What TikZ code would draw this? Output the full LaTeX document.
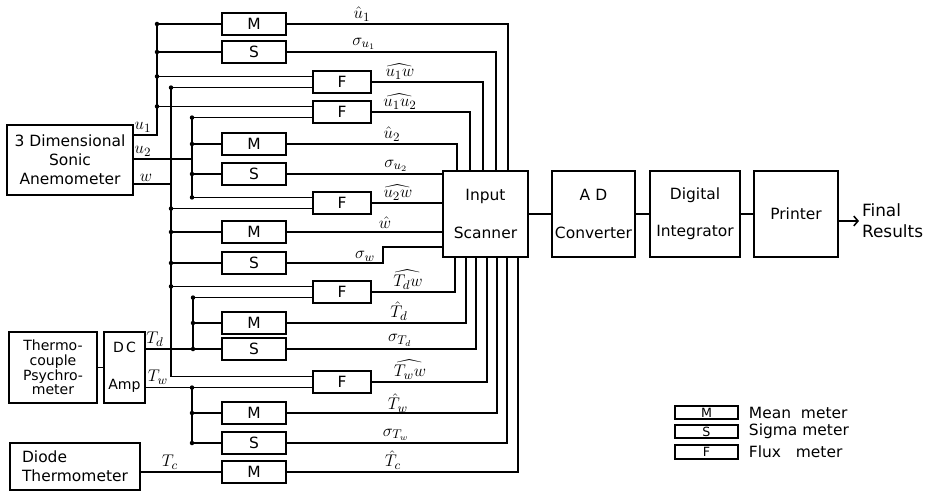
\documentclass[tikz,border=0pt]{standalone}
\usepackage{amsmath}
\usepackage{fontspec}
\setmainfont{DejaVu Sans}
\usetikzlibrary{arrows.meta}

\tikzset{
  wire/.style={line width=1.1pt},
  box/.style={draw, line width=1.5pt, inner sep=0pt},
  meter/.style={box, minimum width=1.6cm, minimum height=0.55cm},
  flux/.style={box, minimum width=1.45cm, minimum height=0.55cm},
  unit/.style={box, minimum height=2.15cm, align=center},
  key/.style={box, line width=1.3pt, minimum width=1.575cm, minimum height=0.33cm, font=\fontsize{9}{10}\selectfont},
  lbl/.style={anchor=south, inner sep=1pt, font=\fontsize{12.5}{14}\selectfont},
}

\begin{document}
\begin{tikzpicture}[x=0.025cm, y=-0.025cm, font=\fontsize{11}{13.5}\selectfont]
  \useasboundingbox (0,0) rectangle (934,492);

  % sources
  \node[box, minimum width=3.15cm, minimum height=1.75cm, align=center] (sonic) at (70,160) {3 Dimensional\\Sonic\\Anemometer};
  \node[box, minimum width=2.2cm, minimum height=1.775cm, align=center, font=\fontsize{10}{10.5}\selectfont] (thermo) at (53,367.5) {Thermo-\\couple\\Psychro-\\meter};
  \node[box, minimum width=1.025cm, minimum height=1.775cm, align=center, font=\fontsize{10}{12}\selectfont] (amp) at (124.5,367.5) {D\,C\\[14pt]Amp};
  \node[box, minimum width=3.25cm, minimum height=1.175cm, align=left] (diode) at (75,466.5) {Diode\\Thermometer};

  % meters
  \node[meter] (m1) at (254,24) {M};
  \node[meter] (s1) at (254,52) {S};
  \node[flux]  (f1) at (342,82) {F};
  \node[flux]  (f2) at (342,112) {F};
  \node[meter] (m2) at (254,144) {M};
  \node[meter] (s2) at (254,174) {S};
  \node[flux]  (f3) at (342,203) {F};
  \node[meter] (m3) at (254,232) {M};
  \node[meter] (s3) at (254,263) {S};
  \node[flux]  (f4) at (342,292) {F};
  \node[meter] (m4) at (254,323) {M};
  \node[meter] (s4) at (254,349) {S};
  \node[flux]  (f5) at (342,382) {F};
  \node[meter] (m5) at (254,413) {M};
  \node[meter] (s5) at (254,443) {S};
  \node[meter] (m6) at (254,472) {M};

  % processing chain
  \node[unit, minimum width=2.125cm] (scanner) at (485.5,214) {Input\\[13pt]Scanner};
  \node[unit, minimum width=2.075cm] (adc) at (593.5,214) {A\,\,D\\[13pt]Converter};
  \node[unit, minimum width=2.25cm] (integ) at (695,214) {Digital\\[13pt]Integrator};
  \node[unit, minimum width=2.1cm] (printer) at (796,214) {Printer};
  \node[align=left, anchor=west, inner sep=2pt, font=\fontsize{12}{15}\selectfont] (result) at (859,221) {Final\\Results};

  % ports and bus points
  \foreach \f in {f1,f2,f3,f4,f5} {
    \coordinate (\f-a) at ([yshift=0.14cm]\f.west);
    \coordinate (\f-b) at ([yshift=-0.14cm]\f.west);
  }
  \coordinate (u1) at (133,135);
  \coordinate (u2) at (133,159);
  \coordinate (w) at (133,184);
  \coordinate (ju1) at (157,24);
  \coordinate (jw) at (171,184);
  \coordinate (ju2) at (192,159);
  \coordinate (jtd) at (193,349);
  \coordinate (td) at (amp.east |- s4);
  \coordinate (tw) at (amp.east |- f5-b);
  \coordinate (jtw) at (192,0 |- f5-b);
  \coordinate (jsw) at (383,247);

  % u1 bus
  \draw[wire] (u1) -| (ju1) -- (m1);
  \draw[wire] (ju1 |- s1) -- (s1);
  \draw[wire] (ju1 |- f1-a) -- (f1-a);
  \draw[wire] (ju1 |- f2-a) -- (f2-a);
  % w bus
  \draw[wire] (w) -- (jw);
  \draw[wire] (f1-b) -| (jw) |- (f5-a);
  \draw[wire] (jw |- f3-b) -- (f3-b);
  \draw[wire] (jw |- m3) -- (m3);
  \draw[wire] (jw |- s3) -- (s3);
  \draw[wire] (jw |- f4-a) -- (f4-a);
  % u2 bus
  \draw[wire] (u2) -- (ju2);
  \draw[wire] (f2-b) -| (ju2) |- (f3-a);
  \draw[wire] (ju2 |- m2) -- (m2);
  \draw[wire] (ju2 |- s2) -- (s2);
  % temperatures
  \draw[wire] (thermo) -- (amp);
  \draw[wire] (td) -- (s4);
  \draw[wire] (f4-b) -| (jtd);
  \draw[wire] (jtd |- m4) -- (m4);
  \draw[wire] (tw) -- (f5-b);
  \draw[wire] (jtw) |- (s5);
  \draw[wire] (jtw |- m5) -- (m5);
  \draw[wire] (diode.east |- m6) -- (m6);

  \foreach \p in {ju1, ju1|-s1, ju1|-f1-a, ju1|-f2-a, jw|-f1-b, jw|-f3-b, jw|-m3, jw|-s3, jw|-f4-a,
                  ju2|-f2-b, ju2|-m2, ju2|-s2, ju2|-f3-a, jtd|-f4-b, jtd|-m4, jtd, jtw, jtw|-m5, jtw|-s5}
    \fill (\p) circle (1.6pt);

  % into the scanner
  \foreach \src/\px in {m1/508, s1/496, f1/483, f2/470, m2/457}
    \draw[wire] (\src) -| (\px,0 |- scanner.north);
  \foreach \src in {s2, f3, m3}
    \draw[wire] (\src) -- (\src -| scanner.west);
  \draw[wire] (s3) -| (jsw) -- (jsw -| scanner.west);
  \foreach \src/\px in {f4/455, m4/466, s4/476, f5/487, m5/497, s5/507, m6/518}
    \draw[wire] (\src) -| (\px,0 |- scanner.south);

  \draw[wire] (scanner) -- (adc);
  \draw[wire] (adc) -- (integ);
  \draw[wire] (integ) -- (printer);
  \draw[wire, -{Straight Barb[length=3pt,width=7pt]}] (printer.east |- result.west) -- (result.west);

  % signal labels
  \foreach \px/\py/\txt [count=\i] in {362/23/{$\hat{u}_1$}, 364/51/{$\sigma_{u_1}$}, 400/81/{$\widehat{u_1w}$},
      400/111/{$\widehat{u_1u_2}$}, 392/143/{$\hat{u}_2$}, 396/173/{$\sigma_{u_2}$}, 398/202/{$\widehat{u_2w}$},
      385/230/{$\hat{w}$}, 365/263/{$\sigma_w$}, 408/291/{$\widehat{T_dw}$}, 399/322/{$\hat{T}_d$},
      400/348/{$\sigma_{T_d}$}, 410/381/{$\widehat{T_ww}$}, 398/414/{$\hat{T}_w$}, 396/442/{$\sigma_{T_w}$},
      393/471/{$\hat{T}_c$}}
    \node[lbl] (lab\i) at (\px,\py) {\txt};
  \node[lbl] (lu1) at (143,134) {$u_1$};
  \node[lbl] (lu2) at (143,158) {$u_2$};
  \node[lbl] (lw) at (146,183) {$w$};
  \node[lbl] (ltd) at (155,348) {$T_d$};
  \node[lbl] (ltw) at (158,386) {$T_w$};
  \node[lbl] (ltc) at (170,471) {$T_c$};

  % legend
  \node[key] (km) at (706.5,412.5) {M};
  \node[key] (ks) at (706.5,431.5) {S};
  \node[key] (kf) at (706.5,452) {F};
  \node[anchor=west] (kmt) at (744,412.5) {Mean\ \ meter};
  \node[anchor=west] (kst) at (744,431.5) {Sigma meter};
  \node[anchor=west] (kft) at (744,452) {Flux\ \ \ meter};
\end{tikzpicture}
\end{document}
